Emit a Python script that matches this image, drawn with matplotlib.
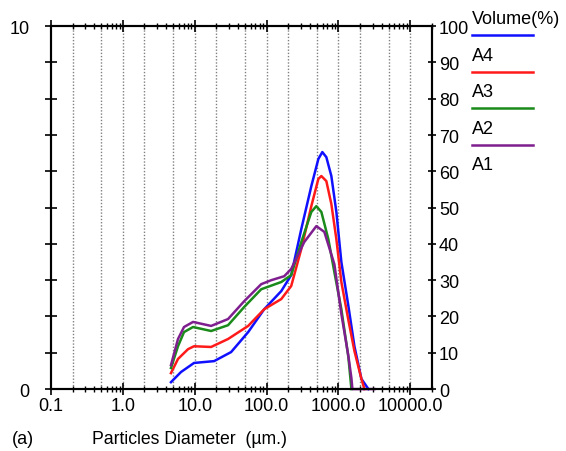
import matplotlib
matplotlib.use('Agg')
import matplotlib.pyplot as plt
import matplotlib.ticker as mticker
import numpy as np

plt.rcParams['font.family'] = ['Liberation Sans', 'DejaVu Sans']

# particle diameter (um) and volume (%)
d_a4 = [4.67, 6.44, 9.78, 18.6, 32.1, 55.4, 92.6, 160, 220, 304, 419, 525, 596,
        678, 796, 935, 1097, 1374, 1667, 2086, 2612]
v_a4 = [0.19, 0.47, 0.72, 0.77, 1.02, 1.57, 2.20, 2.70, 3.14, 4.41, 5.59, 6.34, 6.53,
        6.39, 5.87, 4.88, 3.50, 2.29, 1.18, 0.28, 0.0]

d_a3 = [4.67, 5.85, 8.07, 9.78, 16.9, 29.1, 55.4, 92.6, 160, 220, 304, 419, 525,
        578, 678, 796, 935, 1097, 1374, 1667, 2086, 2296]
v_a3 = [0.44, 0.83, 1.10, 1.18, 1.16, 1.38, 1.74, 2.20, 2.48, 2.84, 3.86, 5.04, 5.79,
        5.87, 5.73, 5.10, 4.13, 2.95, 1.90, 1.05, 0.28, 0.0]

d_a2 = [4.67, 5.85, 7.09, 9.47, 16.9, 29.1, 48.7, 84.1, 160, 220, 304, 419, 492,
        578, 723, 877, 1097, 1374, 1514]
v_a2 = [0.58, 1.18, 1.57, 1.71, 1.60, 1.76, 2.26, 2.75, 2.95, 3.14, 4.05, 4.88, 5.04,
        4.88, 4.13, 3.22, 2.20, 0.88, 0.0]

d_a1 = [4.67, 5.85, 7.09, 9.47, 16.9, 29.1, 48.7, 84.1, 116, 176, 220, 334, 492,
        636, 877, 1097, 1374, 1514, 1563, 3170]
v_a1 = [0.66, 1.38, 1.71, 1.85, 1.74, 1.93, 2.42, 2.89, 3.00, 3.11, 3.31, 4.05, 4.49,
        4.33, 3.44, 2.07, 0.91, 0.30, 0.0, 0.0]

legend_labels = ['Volume(%)', 'A4', 'A3', 'A2', 'A1']
colors = ['#1010ff', '#ff1a1a', '#1a8a1a', '#7f1f8f']

x_ticks = [0.1, 1, 10, 100, 1000, 10000]
x_ticklabels = ['0.1', '1.0', '10.0', '100.0', '1000.0', '10000.0']
grid_pos = [0.2, 0.5, 1, 2, 5, 10, 20, 50, 100, 200, 500, 1000, 2000, 5000, 10000]

fig = plt.figure(figsize=(5.66, 4.52), dpi=100)
ax = fig.add_axes([0.0901, 0.137, 0.6731, 0.803])

for xg in grid_pos:
    ax.axvline(xg, color='#808080', linestyle=(0, (1, 1.3)), linewidth=1.0, zorder=1)

series = [(d_a4, v_a4), (d_a3, v_a3), (d_a2, v_a2), (d_a1, v_a1)]
for (d, v), c in zip(series, colors):
    ax.plot(d, v, color=c, linewidth=1.8, zorder=3, clip_on=False)

ax.set_xscale('log')
ax.set_xlim(0.1, 20000)
ax.set_ylim(0, 10)

ax.xaxis.set_major_locator(mticker.FixedLocator(x_ticks))
ax.xaxis.set_major_formatter(mticker.FixedFormatter(x_ticklabels))
ax.xaxis.set_minor_locator(mticker.LogLocator(base=10, subs=np.arange(2, 10)))
ax.xaxis.set_minor_formatter(mticker.NullFormatter())
ax.tick_params(axis='x', which='major', direction='inout', length=8, width=1.2,
               top=True, labelsize=13, pad=2)
ax.tick_params(axis='x', which='minor', direction='inout', length=5, width=1.0,
               top=True)

ax.set_yticks(range(11))
ax.set_yticklabels(['0'] + [''] * 9 + ['10'])
ax.tick_params(axis='y', direction='inout', length=8, width=1.2, labelsize=13, pad=11.5)

for s in ax.spines.values():
    s.set_linewidth(1.5)

ax2 = ax.twinx()
ax2.set_ylim(0, 100)
ax2.set_yticks(range(0, 101, 10))
ax2.tick_params(axis='y', direction='inout', length=6, width=1.2, labelsize=13, pad=2)
for s in ax2.spines.values():
    s.set_linewidth(1.5)

# legend drawn by hand, line under each label as in the original
lx0, lx1 = 472 / 566, 533 / 566
for i, lab in enumerate(legend_labels):
    ty = 1 - (20 + 36.5 * i) / 452
    fig.text(lx0, ty, lab, fontsize=13, va='center', ha='left')
    if i < len(colors):
        ly = 1 - (36 + 36.5 * i) / 452
        fig.add_artist(plt.Line2D([lx0, lx1], [ly, ly], color=colors[i],
                                  linewidth=1.8, transform=fig.transFigure))

fig.text(12 / 566, 1 - 440 / 452, '(a)', fontsize=13, va='center', ha='left')
fig.text(92 / 566, 1 - 440 / 452, 'Particles Diameter  (µm.)', fontsize=12.7,
         va='center', ha='left')

fig.savefig('out.png', dpi=100)
